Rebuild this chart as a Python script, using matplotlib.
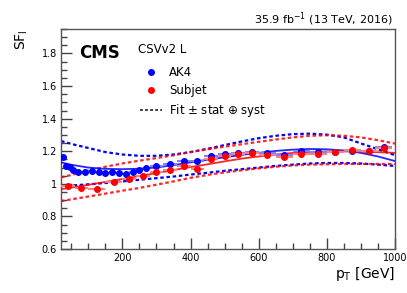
import numpy as np
import matplotlib.pyplot as plt
from matplotlib.ticker import MultipleLocator, FuncFormatter
from matplotlib.lines import Line2D

# measured scale factors
ak4_pt = [25, 35, 45, 55, 70, 90, 110, 130, 150, 170, 190, 210, 230, 250, 270,
          300, 340, 380, 420, 460, 500, 540, 580, 625, 675, 725, 775, 825, 875, 925, 967]
ak4_sf = [1.162, 1.107, 1.104, 1.084, 1.070, 1.070, 1.080, 1.070, 1.067, 1.075, 1.069,
          1.058, 1.074, 1.088, 1.099, 1.107, 1.124, 1.139, 1.141, 1.171, 1.186, 1.192,
          1.196, 1.190, 1.180, 1.202, 1.194, 1.198, 1.200, 1.202, 1.226]
ak4_xerr = [5, 5, 5, 5, 10, 10, 10, 10, 10, 10, 10, 10, 10, 10, 10,
            20, 20, 20, 20, 20, 20, 20, 20, 25, 25, 25, 25, 25, 25, 25, 25]

sub_pt = [40, 80, 125, 175, 220, 260, 300, 340, 380, 420, 460, 500, 540, 580,
          625, 675, 725, 775, 825, 875, 925, 967]
sub_sf = [0.988, 0.975, 0.970, 1.009, 1.029, 1.050, 1.072, 1.087, 1.108, 1.094, 1.152,
          1.170, 1.186, 1.192, 1.176, 1.165, 1.186, 1.186, 1.194, 1.210, 1.202, 1.223]
sub_xerr = [20, 20, 25, 25, 20, 20, 20, 20, 20, 20, 20, 20, 20, 20,
            25, 25, 25, 25, 25, 25, 25, 25]

# fit curves
fit_pt = [20, 50, 100, 150, 200, 250, 300, 350, 400, 450, 500, 550, 600, 650, 700,
          750, 800, 850, 900, 950, 1000]
ak4_fit = [1.132, 1.117, 1.100, 1.092, 1.090, 1.093, 1.100, 1.115, 1.132, 1.148, 1.163,
           1.178, 1.190, 1.202, 1.210, 1.214, 1.212, 1.205, 1.190, 1.168, 1.140]
ak4_up = [1.263, 1.245, 1.220, 1.195, 1.180, 1.172, 1.172, 1.180, 1.195, 1.215, 1.238,
          1.260, 1.280, 1.295, 1.305, 1.308, 1.302, 1.285, 1.248, 1.212, 1.176]
ak4_dn = [0.986, 0.990, 0.997, 1.005, 1.015, 1.025, 1.035, 1.045, 1.057, 1.068, 1.080,
          1.090, 1.100, 1.110, 1.118, 1.125, 1.128, 1.128, 1.125, 1.118, 1.110]
sub_fit = [0.967, 0.977, 0.994, 1.012, 1.030, 1.048, 1.066, 1.085, 1.103, 1.120, 1.138,
           1.155, 1.168, 1.180, 1.190, 1.196, 1.199, 1.199, 1.197, 1.194, 1.190]
sub_up = [1.039, 1.055, 1.080, 1.105, 1.125, 1.142, 1.158, 1.175, 1.195, 1.212, 1.228,
          1.243, 1.258, 1.272, 1.285, 1.295, 1.298, 1.295, 1.285, 1.268, 1.247]
sub_dn = [0.894, 0.905, 0.922, 0.940, 0.958, 0.975, 0.995, 1.015, 1.037, 1.055, 1.070,
          1.083, 1.095, 1.105, 1.113, 1.118, 1.120, 1.122, 1.122, 1.122, 1.122]

blue = '#0000ff'
red = '#ff0000'
dot = (0, (1.6, 1.2))

fig = plt.figure(figsize=(4.07, 2.93), dpi=100)
ax = fig.add_axes([0.150, 0.150, 0.8205, 0.751])

ax.plot(fit_pt, ak4_up, color=blue, lw=1.6, ls=dot, zorder=2)
ax.plot(fit_pt, ak4_dn, color=blue, lw=1.6, ls=dot, zorder=2)
ax.plot(fit_pt, sub_up, color=red, lw=1.6, ls=dot, alpha=0.85, zorder=2)
ax.plot(fit_pt, sub_dn, color=red, lw=1.6, ls=dot, alpha=0.85, zorder=2)
ax.plot(fit_pt, ak4_fit, color=blue, lw=1.3, alpha=0.85, zorder=3)
ax.plot(fit_pt, sub_fit, color=red, lw=1.3, alpha=0.85, zorder=3)

ax.errorbar(ak4_pt, ak4_sf, xerr=ak4_xerr, yerr=0.006, fmt='o', color=blue,
            ms=4, ecolor='#8080ff', elinewidth=1.5, capsize=0, zorder=4)
ax.errorbar(sub_pt, sub_sf, xerr=sub_xerr, yerr=0.006, fmt='o', color=red,
            ms=4, ecolor='#ff8080', elinewidth=1.5, capsize=0, zorder=5)

ax.set_xlim(20, 1000)
ax.set_ylim(0.6, 1.95)
ax.xaxis.set_major_locator(MultipleLocator(200))
ax.xaxis.set_minor_locator(MultipleLocator(50))
ax.yaxis.set_major_locator(MultipleLocator(0.2))
ax.yaxis.set_minor_locator(MultipleLocator(0.05))
ax.yaxis.set_major_formatter(FuncFormatter(lambda v, p: f'{v:g}'))
ax.tick_params(which='both', direction='in', top=False, right=False,
               labelsize=7, color='#444444', pad=3)
ax.tick_params(which='major', length=8, width=1)
ax.tick_params(which='minor', length=4, width=1)
for s in ax.spines.values():
    s.set_color('#555555')
    s.set_linewidth(1)

ax.set_xlabel('p$_\\mathregular{T}$ [GeV]', fontsize=10, loc='right', labelpad=1)
ax.set_ylabel('SF$_\\mathregular{l}$', fontsize=10, loc='top', labelpad=8)

fig.text(0.966, 0.935, '35.9 fb$^{-1}$ (13 TeV, 2016)', ha='right', va='center', fontsize=8)
ax.text(0.055, 0.93, 'CMS', transform=ax.transAxes, fontsize=12, fontweight='bold',
        ha='left', va='top')
ax.text(0.23, 0.935, 'CSVv2 L', transform=ax.transAxes, fontsize=8.5, ha='left', va='top')

handles = [Line2D([], [], marker='o', ls='none', color=blue, ms=4),
           Line2D([], [], marker='o', ls='none', color=red, ms=4),
           Line2D([], [], color='#333333', ls=dot, lw=1.3)]
ax.legend(handles, ['AK4', 'Subjet', 'Fit $\\pm$ stat $\\oplus$ syst'],
          loc='upper left', bbox_to_anchor=(0.22, 0.86), frameon=False,
          fontsize=8.5, handlelength=1.8, handletextpad=0.6, labelspacing=0.45,
          borderpad=0)

fig.savefig('out.png', dpi=100)
